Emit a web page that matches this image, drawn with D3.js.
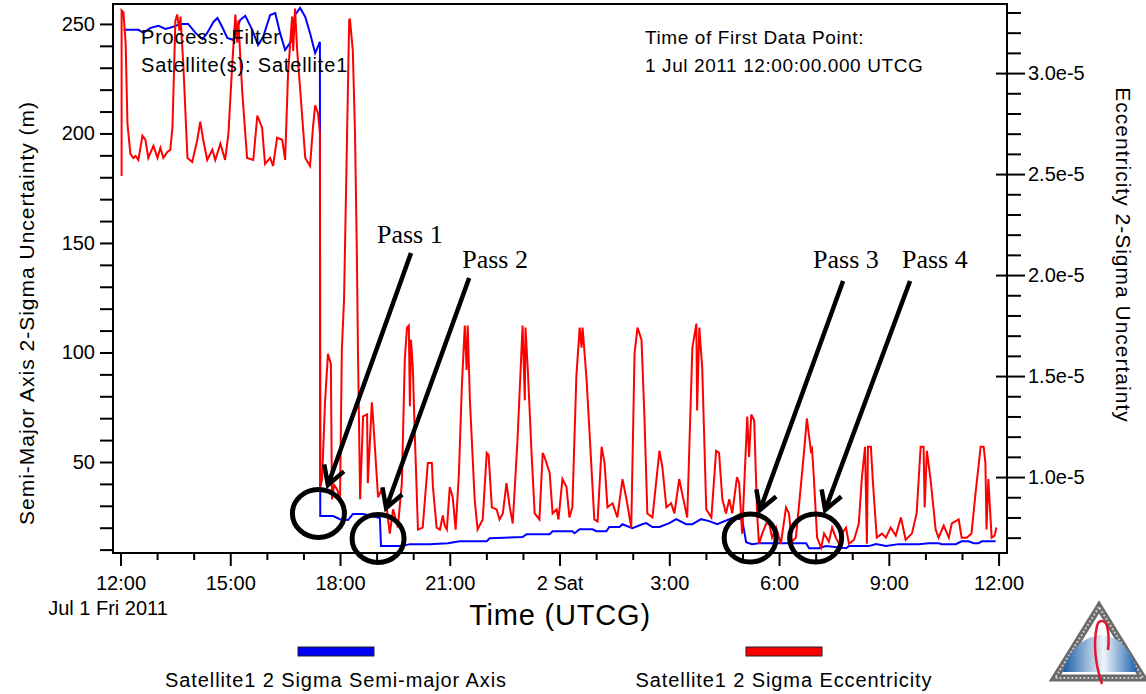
<!DOCTYPE html>
<html>
<head>
<meta charset="utf-8">
<script src="https://cdn.jsdelivr.net/npm/d3@7"></script>
<style>
  body { margin: 0; background: #fff; }
  svg { display: block; font-family: "Liberation Sans", Arial, sans-serif; }
</style>
</head>
<body>
<svg id="chart" width="1146" height="694"></svg>
<script>
// Orbit determination uncertainty plot (semi-major axis + eccentricity)

const startTime = Date.UTC(2011, 6, 1, 12);
const toDate = h => new Date(startTime + h * 3600e3);

// tick labels
const xTickLabels = ['12:00', '15:00', '18:00', '21:00', '2 Sat', '3:00', '6:00', '9:00', '12:00'];
const leftMajor = [50, 100, 150, 200, 250];
const rightMajor = [1.0, 1.5, 2.0, 2.5, 3.0];

// [hours after 1 Jul 2011 12:00, semi-major axis 2-sigma (m)]
const semiMajor = [
  [0.08, 247.3], [0.49, 247.3], [0.63, 245.9], [0.82, 248.2], [1.04, 249.1], [1.23, 247.7], [1.42, 248.6],
  [1.64, 250.0], [1.85, 250.0], [2.05, 245.9], [2.24, 243.1], [2.37, 245.9], [2.54, 250.9], [2.65, 252.7],
  [2.78, 248.6], [2.92, 243.6], [3.08, 242.7], [3.27, 251.8], [3.41, 253.7], [3.60, 247.3], [3.76, 240.4],
  [3.90, 244.1], [4.09, 254.1], [4.23, 255.0], [4.36, 245.9], [4.50, 238.1], [4.69, 242.7], [4.77, 254.1],
  [4.91, 257.3], [5.05, 253.2], [5.18, 245.9], [5.32, 236.7], [5.45, 241.8], [5.46, 25.3], [5.81, 25.3],
  [6.00, 23.9], [6.22, 23.5], [6.35, 26.2], [6.63, 26.2], [7.01, 24.8], [7.09, 24.4], [7.12, 11.6],
  [7.69, 11.6], [7.91, 12.5], [8.45, 12.5], [8.95, 12.9], [9.27, 13.8], [10.01, 13.8], [10.09, 15.2],
  [10.99, 15.7], [11.10, 17.0], [11.73, 17.0], [11.81, 18.4], [12.35, 18.4], [12.41, 17.5], [12.55, 19.3],
  [12.90, 19.3], [13.01, 18.4], [13.28, 18.4], [13.36, 20.3], [13.64, 20.3], [13.72, 21.6], [13.99, 19.8],
  [14.26, 21.6], [14.37, 22.1], [14.54, 20.3], [14.73, 20.3], [15.00, 22.1], [15.19, 23.9], [15.46, 21.6],
  [15.63, 21.6], [15.87, 23.9], [16.09, 23.0], [16.31, 21.6], [16.72, 24.4], [16.99, 23.9], [17.10, 13.4],
  [17.26, 12.5], [17.45, 12.9], [18.74, 12.9], [18.82, 10.6], [19.09, 10.6], [19.28, 11.6], [19.83, 10.6],
  [19.91, 11.6], [20.45, 11.6], [20.65, 12.5], [20.92, 11.6], [21.27, 12.5], [21.82, 12.5], [22.09, 12.9],
  [22.36, 12.9], [22.45, 12.5], [22.83, 12.5], [22.99, 13.8], [23.18, 13.8], [23.32, 12.9], [23.45, 12.9],
  [23.54, 13.8], [23.92, 13.8]
];

// [hours, eccentricity 2-sigma in units of 1e-5]
const eccentricity = [
  [0.03, 2.49], [0.03, 3.31], [0.08, 3.30], [0.14, 3.15], [0.19, 2.75], [0.27, 2.60], [0.35, 2.58],
  [0.41, 2.59], [0.49, 2.57], [0.60, 2.69], [0.68, 2.67], [0.76, 2.58], [0.90, 2.64], [1.01, 2.58],
  [1.09, 2.63], [1.17, 2.58], [1.28, 2.61], [1.36, 2.62], [1.42, 2.73], [1.50, 3.26], [1.55, 3.29],
  [1.61, 3.21], [1.64, 3.28], [1.72, 3.03], [1.83, 2.58], [1.96, 2.56], [2.10, 2.67], [2.18, 2.76],
  [2.26, 2.67], [2.37, 2.57], [2.51, 2.62], [2.59, 2.57], [2.73, 2.65], [2.86, 2.57], [2.95, 2.70],
  [3.05, 3.03], [3.14, 3.29], [3.19, 3.15], [3.22, 3.26], [3.33, 2.90], [3.46, 2.58], [3.63, 2.57],
  [3.74, 2.79], [3.87, 2.73], [3.95, 2.55], [4.09, 2.58], [4.17, 2.54], [4.28, 2.68], [4.42, 2.67],
  [4.50, 2.57], [4.58, 3.00], [4.69, 3.28], [4.72, 3.11], [4.77, 3.32], [4.83, 3.11], [4.91, 2.92],
  [5.05, 2.58], [5.18, 2.54], [5.26, 2.73], [5.32, 2.84], [5.40, 2.80], [5.45, 2.70], [5.46, 0.95],
  [5.51, 0.99], [5.59, 1.37], [5.67, 1.61], [5.75, 1.56], [5.78, 0.89], [5.84, 0.96], [5.92, 0.94],
  [6.00, 0.89], [6.05, 1.63], [6.11, 1.88], [6.25, 3.26], [6.27, 3.27], [6.35, 3.11], [6.41, 2.70],
  [6.46, 2.11], [6.49, 1.63], [6.55, 0.89], [6.63, 1.30], [6.74, 1.31], [6.76, 0.97], [6.87, 1.37],
  [6.90, 1.30], [7.04, 0.90], [7.14, 0.94], [7.28, 0.84], [7.36, 0.72], [7.45, 0.84], [7.58, 0.75],
  [7.69, 0.97], [7.77, 1.58], [7.83, 1.74], [7.88, 1.75], [7.91, 1.35], [7.94, 1.68], [7.99, 1.54],
  [8.05, 1.18], [8.13, 0.74], [8.26, 0.75], [8.40, 1.07], [8.51, 1.07], [8.54, 0.95], [8.64, 0.75],
  [8.73, 0.74], [8.81, 0.81], [8.86, 0.76], [8.92, 0.74], [9.00, 0.95], [9.08, 0.90], [9.16, 0.74],
  [9.25, 1.02], [9.33, 1.45], [9.41, 1.75], [9.46, 1.53], [9.49, 1.75], [9.55, 1.38], [9.68, 0.89],
  [9.76, 0.74], [9.90, 0.79], [10.01, 1.12], [10.06, 1.11], [10.15, 0.85], [10.28, 0.84], [10.36, 0.79],
  [10.45, 0.82], [10.55, 0.97], [10.64, 0.85], [10.72, 0.77], [10.85, 1.18], [10.96, 1.63], [10.99, 1.75],
  [11.05, 1.38], [11.07, 1.74], [11.13, 1.54], [11.24, 1.10], [11.32, 0.82], [11.45, 0.79], [11.54, 1.12],
  [11.59, 1.10], [11.73, 1.02], [11.81, 0.82], [11.92, 0.84], [11.97, 0.79], [12.08, 0.99], [12.19, 0.95],
  [12.27, 0.80], [12.35, 0.85], [12.46, 1.50], [12.55, 1.74], [12.60, 1.64], [12.63, 1.74], [12.74, 1.48],
  [12.82, 1.22], [12.95, 0.79], [13.04, 0.78], [13.15, 1.15], [13.23, 1.07], [13.31, 0.85], [13.45, 0.87],
  [13.58, 0.80], [13.72, 0.99], [13.83, 0.89], [13.96, 0.75], [14.05, 1.61], [14.13, 1.74], [14.24, 1.68],
  [14.32, 1.30], [14.40, 0.82], [14.54, 0.80], [14.73, 1.13], [14.81, 1.05], [14.92, 0.85], [15.05, 0.87],
  [15.14, 0.82], [15.27, 0.99], [15.35, 0.92], [15.49, 0.80], [15.63, 1.64], [15.74, 1.76], [15.76, 1.33],
  [15.82, 1.74], [15.90, 1.54], [16.01, 0.84], [16.15, 0.80], [16.28, 1.13], [16.36, 1.12], [16.45, 0.89],
  [16.55, 0.82], [16.64, 0.89], [16.72, 0.82], [16.85, 1.00], [16.91, 0.97], [16.99, 0.72], [17.13, 1.30],
  [17.18, 1.10], [17.24, 1.31], [17.32, 1.28], [17.40, 0.82], [17.45, 0.67], [17.54, 0.72], [17.65, 0.77],
  [17.73, 0.77], [17.81, 0.70], [17.92, 0.75], [18.05, 0.67], [18.19, 0.85], [18.27, 0.82], [18.35, 0.68],
  [18.46, 0.70], [18.55, 0.87], [18.68, 1.12], [18.76, 1.29], [18.87, 1.13], [18.90, 1.14], [18.95, 1.00],
  [19.04, 0.70], [19.15, 0.65], [19.23, 0.72], [19.36, 0.68], [19.45, 0.75], [19.55, 0.70], [19.64, 0.67],
  [19.72, 0.72], [19.83, 0.75], [19.91, 0.67], [20.05, 0.69], [20.18, 0.77], [20.26, 0.99], [20.35, 1.15],
  [20.40, 0.67], [20.43, 1.15], [20.51, 1.15], [20.56, 0.99], [20.67, 0.70], [20.81, 0.72], [20.92, 0.70],
  [21.05, 0.75], [21.19, 0.71], [21.33, 0.80], [21.46, 0.69], [21.63, 0.72], [21.76, 0.82], [21.87, 1.15],
  [21.95, 1.15], [21.98, 0.85], [22.04, 1.13], [22.14, 0.99], [22.28, 0.74], [22.36, 0.70], [22.50, 0.76],
  [22.64, 0.70], [22.72, 0.77], [22.91, 0.79], [22.99, 0.70], [23.13, 0.70], [23.26, 0.72], [23.37, 0.92],
  [23.51, 1.15], [23.59, 1.15], [23.64, 1.07], [23.67, 0.74], [23.72, 0.99], [23.81, 0.70], [23.89, 0.71],
  [23.94, 0.75]
];

// Pass annotations, in [hours, semi-major axis metres]
const passLabels = ['Pass 1', 'Pass 2', 'Pass 3', 'Pass 4'];
const passLabelPos = [[7.01, 150], [9.34, 138.6], [18.93, 138.6], [21.36, 138.6]];
const passArrowFrom = [[7.94, 145.4], [9.53, 134.0], [19.75, 132.6], [21.58, 132.6]];
const passArrowTo = [[5.67, 39.5], [7.26, 29.0], [17.48, 28.1], [19.26, 28.1]];
const passCircles = [[5.41, 26.5], [7.04, 15.1], [17.21, 15.3], [19.0, 15.3]];

const infoLeft = ['Process: Filter', 'Satellite(s): Satellite1'];
const infoRight = ['Time of First Data Point:', '1 Jul 2011 12:00:00.000 UTCG'];

const legendItems = [
  { label: 'Satellite1 2 Sigma Semi-major Axis', color: '#0000ff' },
  { label: 'Satellite1 2 Sigma Eccentricity', color: '#ff0000' }
];

const svg = d3.select('#chart');
const frame = { left: 113, top: 4, right: 1007, bottom: 553 };

const x = d3.scaleUtc()
  .domain([toDate(-0.205), toDate(24.23)])
  .range([frame.left, frame.right]);

const yLeft = d3.scaleLinear()
  .domain([8.45, 259.1])
  .range([frame.bottom, frame.top]);

const yRight = d3.scaleLinear()
  .domain([0.624, 3.342])
  .range([frame.bottom, frame.top]);

svg.append('rect').attr('width', 1146).attr('height', 694).attr('fill', '#fff');

svg.append('clipPath').attr('id', 'plot-clip')
  .append('rect')
  .attr('x', frame.left).attr('y', frame.top)
  .attr('width', frame.right - frame.left).attr('height', frame.bottom - frame.top);

// Lines (blue under red)
const plot = svg.append('g').attr('clip-path', 'url(#plot-clip)');

const blueLine = d3.line().x(d => x(toDate(d[0]))).y(d => yLeft(d[1]));
const redLine = d3.line().x(d => x(toDate(d[0]))).y(d => yRight(d[1]));

plot.append('path')
  .datum(semiMajor)
  .attr('d', blueLine)
  .attr('fill', 'none')
  .attr('stroke', '#0000ff')
  .attr('stroke-width', 2);

plot.append('path')
  .datum(eccentricity)
  .attr('d', redLine)
  .attr('fill', 'none')
  .attr('stroke', '#ff0000')
  .attr('stroke-width', 2);

// Bottom axis
const xAxis = d3.axisBottom(x)
  .tickValues(d3.range(0, 25).map(toDate))
  .tickSize(7)
  .tickFormat((d, i) => i % 3 === 0 ? xTickLabels[i / 3] : '');

const gx = svg.append('g')
  .attr('transform', `translate(0,${frame.bottom})`)
  .call(xAxis);
gx.select('.domain').remove();
gx.attr('font-size', null).attr('font-family', null);
gx.selectAll('.tick line').attr('stroke', '#000').attr('stroke-width', 2);
gx.selectAll('.tick').filter((d, i) => i % 3 === 0).select('line').attr('y2', 13);
gx.selectAll('.tick text')
  .attr('y', 37).attr('dy', null)
  .attr('font-size', 20)
  .attr('fill', '#000');

// Left axis
const yAxisLeft = d3.axisLeft(yLeft)
  .tickValues(d3.range(10, 251, 10))
  .tickSize(13)
  .tickPadding(5)
  .tickFormat(d => leftMajor.includes(d) ? d : '');

const gyl = svg.append('g')
  .attr('transform', `translate(${frame.left},0)`)
  .call(yAxisLeft);
gyl.select('.domain').remove();
gyl.attr('font-size', null).attr('font-family', null);
gyl.selectAll('.tick line').attr('stroke', '#000').attr('stroke-width', 2);
gyl.selectAll('.tick text').attr('font-size', 20).attr('fill', '#000');

// Right axis
const isRightMajor = d => rightMajor.some(m => Math.abs(m - d) < 1e-6);
const yAxisRight = d3.axisRight(yRight)
  .tickValues(d3.range(7, 34).map(v => v / 10))
  .tickSize(13)
  .tickPadding(7)
  .tickFormat(d => isRightMajor(d) ? d.toFixed(1) + 'e-5' : '');

const gyr = svg.append('g')
  .attr('transform', `translate(${frame.right + 1},0)`)
  .call(yAxisRight);
gyr.select('.domain').remove();
gyr.attr('font-size', null).attr('font-family', null);
gyr.selectAll('.tick line').attr('stroke', '#000').attr('stroke-width', 2);
gyr.selectAll('.tick').filter(d => isRightMajor(d)).select('line').attr('x1', -12).attr('x2', 17);
gyr.selectAll('.tick text').attr('font-size', 20).attr('fill', '#000');

// Plot frame
svg.append('rect')
  .attr('x', frame.left).attr('y', frame.top)
  .attr('width', frame.right - frame.left).attr('height', frame.bottom - frame.top)
  .attr('fill', 'none')
  .attr('stroke', '#000')
  .attr('stroke-width', 2);

// Axis titles
svg.append('text')
  .attr('transform', 'translate(34,313) rotate(-90)')
  .attr('text-anchor', 'middle')
  .attr('font-size', 21)
  .attr('letter-spacing', 1)
  .text('Semi-Major Axis 2-Sigma Uncertainty (m)');

svg.append('text')
  .attr('transform', 'translate(1116,255) rotate(90)')
  .attr('text-anchor', 'middle')
  .attr('font-size', 21)
  .attr('letter-spacing', 1)
  .text('Eccentricity 2-Sigma Uncertainty');

svg.append('text')
  .attr('x', 108).attr('y', 615)
  .attr('text-anchor', 'middle')
  .attr('font-size', 20)
  .text('Jul 1 Fri 2011');

svg.append('text')
  .attr('x', 560).attr('y', 625)
  .attr('text-anchor', 'middle')
  .attr('font-size', 29)
  .attr('letter-spacing', 0.8)
  .text('Time (UTCG)');

// Info text blocks
infoLeft.forEach((t, i) => {
  svg.append('text')
    .attr('x', 141).attr('y', 44 + i * 28)
    .attr('font-size', 20)
    .attr('letter-spacing', 0.8)
    .text(t);
});
infoRight.forEach((t, i) => {
  svg.append('text')
    .attr('x', 645).attr('y', 44 + i * 28)
    .attr('font-size', 19)
    .attr('letter-spacing', 0.6)
    .text(t);
});

// Pass annotations
const annot = svg.append('g');
const px = d => x(toDate(d[0]));
const py = d => yLeft(d[1]);

passLabels.forEach((label, i) => {
  annot.append('text')
    .attr('x', px(passLabelPos[i])).attr('y', py(passLabelPos[i]))
    .attr('font-family', '"Liberation Serif", "Times New Roman", serif')
    .attr('font-size', 26)
    .text(label);

  const sx = px(passArrowFrom[i]), sy = py(passArrowFrom[i]);
  const tx = px(passArrowTo[i]), ty = py(passArrowTo[i]);
  const len = Math.hypot(sx - tx, sy - ty);
  const ux = (sx - tx) / len, uy = (sy - ty) / len;
  const wing = (ang) => {
    const c = Math.cos(ang), s = Math.sin(ang);
    return [tx + 21 * (ux * c - uy * s), ty + 21 * (ux * s + uy * c)];
  };
  const w1 = wing(Math.PI / 6), w2 = wing(-Math.PI / 6);

  annot.append('path')
    .attr('d', `M${sx},${sy}L${tx},${ty}M${w1[0]},${w1[1]}L${tx},${ty}L${w2[0]},${w2[1]}`)
    .attr('fill', 'none')
    .attr('stroke', '#000')
    .attr('stroke-width', 4.5)
    .attr('stroke-linejoin', 'miter');

  annot.append('ellipse')
    .attr('cx', px(passCircles[i])).attr('cy', py(passCircles[i]))
    .attr('rx', 26).attr('ry', 24)
    .attr('fill', 'none')
    .attr('stroke', '#000')
    .attr('stroke-width', 5);
});

// Legend
const legendX = [336, 784];
legendItems.forEach((item, i) => {
  const g = svg.append('g').attr('transform', `translate(${legendX[i]},0)`);
  g.append('rect')
    .attr('x', -38).attr('y', 647)
    .attr('width', 76).attr('height', 9)
    .attr('fill', item.color)
    .attr('stroke', '#222')
    .attr('stroke-width', 1);
  g.append('text')
    .attr('y', 687)
    .attr('text-anchor', 'middle')
    .attr('font-size', 20)
    .attr('letter-spacing', 0.9)
    .text(item.label);
});

// Logo (decorative)
const defs = svg.append('defs');
const grad = defs.append('linearGradient').attr('id', 'dome-grad');
grad.append('stop').attr('offset', '0%').attr('stop-color', '#1b5ea8');
grad.append('stop').attr('offset', '55%').attr('stop-color', '#eef4fa');
grad.append('stop').attr('offset', '100%').attr('stop-color', '#1d63ae');

const logo = svg.append('g').attr('transform', 'translate(1052,604)');
logo.append('path')
  .attr('d', 'M47,3L3,74L91,74Z')
  .attr('fill', '#fff')
  .attr('stroke', '#6a6a6a')
  .attr('stroke-width', 7)
  .attr('stroke-linejoin', 'miter');
logo.append('path')
  .attr('d', 'M47,3L3,74L91,74Z')
  .attr('fill', 'none')
  .attr('stroke', '#c8c8c8')
  .attr('stroke-width', 2)
  .attr('stroke-dasharray', '2,2');
logo.append('path')
  .attr('d', 'M11,68C16,46 32,32 50,31C66,32 80,46 85,68Z')
  .attr('fill', 'url(#dome-grad)');
logo.append('path')
  .attr('d', 'M50,80C44,62 41,40 45,22C47,15 53,16 55,22C57,30 57,38 56,46')
  .attr('fill', 'none')
  .attr('stroke', '#e4162e')
  .attr('stroke-width', 2.5);
</script>
</body>
</html>
